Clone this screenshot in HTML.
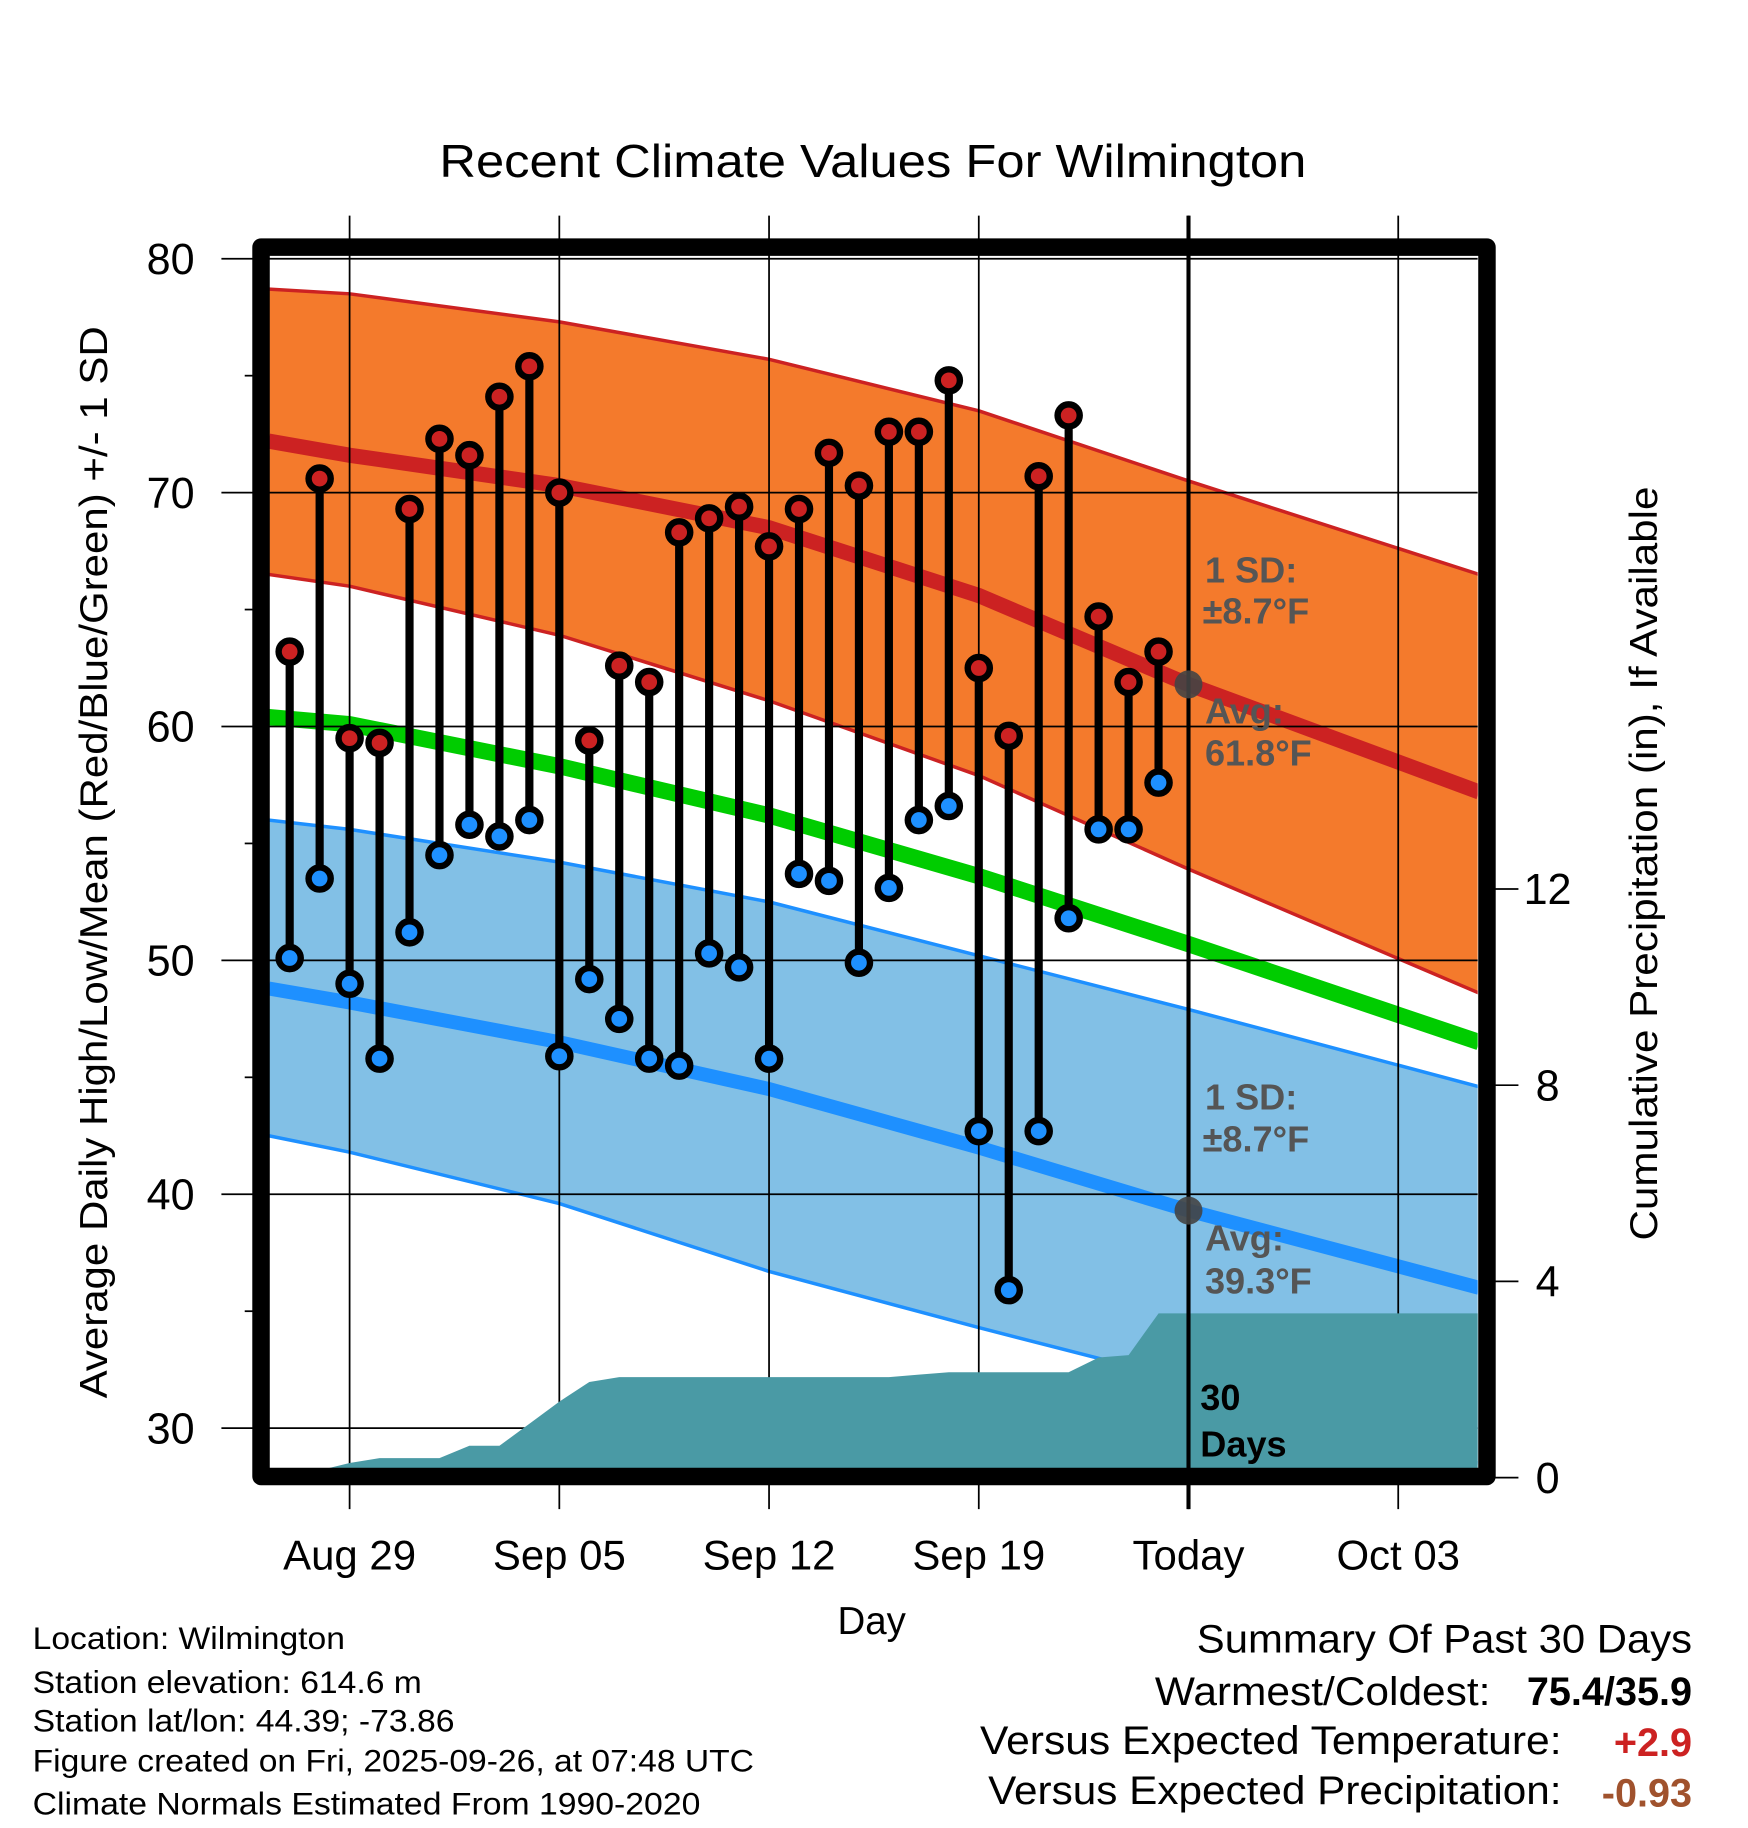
<!DOCTYPE html>
<html><head><meta charset="utf-8"><style>
html,body{margin:0;padding:0;background:#fff}
svg{display:block}
text{font-family:"Liberation Sans",Arial,sans-serif}
</style></head><body>
<svg id="chart" width="1748" height="1828" viewBox="0 0 1500 1568.6" xmlns="http://www.w3.org/2000/svg">
<defs><clipPath id="plotclip"><rect x="231" y="218" width="1037" height="1042"/></clipPath></defs>
<text x="749" y="152" font-size="40" text-anchor="middle" textLength="744" lengthAdjust="spacingAndGlyphs">Recent Climate Values For Wilmington</text>
<g id="grid"></g>
<g id="plot" clip-path="url(#plotclip)"></g>
<g id="marks"></g>
<rect x="224" y="212" width="1052" height="1055" fill="none" stroke="#000" stroke-width="15" stroke-linejoin="round"/>
<g id="axes"></g>
<text transform="translate(92,740) rotate(-90)" font-size="33" text-anchor="middle" textLength="920" lengthAdjust="spacingAndGlyphs">Average Daily High/Low/Mean (Red/Blue/Green) +/- 1 SD</text>
<text transform="translate(1422,741) rotate(-90)" font-size="33" text-anchor="middle" textLength="647" lengthAdjust="spacingAndGlyphs">Cumulative Precipitation (in), If Available</text>
<text x="748" y="1402" font-size="33" text-anchor="middle">Day</text>
<g font-size="27">
<text x="28" y="1415" textLength="268" lengthAdjust="spacingAndGlyphs">Location: Wilmington</text>
<text x="28" y="1453" textLength="334" lengthAdjust="spacingAndGlyphs">Station elevation: 614.6 m</text>
<text x="28" y="1486" textLength="362" lengthAdjust="spacingAndGlyphs">Station lat/lon: 44.39; -73.86</text>
<text x="28" y="1520" textLength="619" lengthAdjust="spacingAndGlyphs">Figure created on Fri, 2025-09-26, at 07:48 UTC</text>
<text x="28" y="1557" textLength="573" lengthAdjust="spacingAndGlyphs">Climate Normals Estimated From 1990-2020</text>
</g>
<g font-size="34">
<text x="1027" y="1418" textLength="425" lengthAdjust="spacingAndGlyphs">Summary Of Past 30 Days</text>
<text x="991" y="1463" textLength="288" lengthAdjust="spacingAndGlyphs">Warmest/Coldest:</text>
<text x="1452" y="1463" text-anchor="end" font-weight="bold">75.4/35.9</text>
<text x="841" y="1505" textLength="499" lengthAdjust="spacingAndGlyphs">Versus Expected Temperature:</text>
<text x="1452" y="1507" text-anchor="end" font-weight="bold" fill="#cc2222">+2.9</text>
<text x="848" y="1548" textLength="492" lengthAdjust="spacingAndGlyphs">Versus Expected Precipitation:</text>
<text x="1452" y="1550" text-anchor="end" font-weight="bold" fill="#a0522d">-0.93</text>
</g>
<script>
// observed data: day offsets from Aug 29
const obsDays=[-2,-1,0,1,2,3,4,5,6,7,8,9,10,11,12,13,14,15,16,17,18,19,20,21,22,23,24,25,26,27];
const highs=[63.2,70.6,59.5,59.3,69.3,72.3,71.6,74.1,75.4,70.0,59.4,62.6,61.9,68.3,68.9,69.4,67.7,69.3,71.7,70.3,72.6,72.6,74.8,62.5,59.6,70.7,73.3,64.7,61.9,63.2];
const lows=[50.1,53.5,49.0,45.8,51.2,54.5,55.8,55.3,56.0,45.9,49.2,47.5,45.8,45.5,50.3,49.7,45.8,53.7,53.4,49.9,53.1,56.0,56.6,42.7,35.9,42.7,51.8,55.6,55.6,57.6];
// normals at sample days
const normDays=[-2.7,0,7,14,21,28,37.7];
const normHighUpper=[78.7,78.5,77.3,75.7,73.5,70.5,66.5];
const normHigh=[72.2,71.6,70.3,68.5,65.6,61.8,57.2];
const normHighLower=[66.5,66.0,63.9,61.1,57.9,53.9,48.6];
const normMean=[60.4,60.1,58.3,56.2,53.6,50.7,46.5];
const normLowUpper=[56.0,55.6,54.2,52.5,50.2,47.9,44.6];
const normLow=[48.8,48.2,46.5,44.5,42.0,39.3,36.0];
const normLowLower=[42.5,41.8,39.6,36.7,34.3,32.0,28.5];
// cumulative precipitation
const precipDays=[-1.4,-1,0,1,2,3,4,5,6,7,8,9,10,11,12,13,14,15,16,17,18,19,20,21,22,23,24,25,26,27,28,37.7];
const precipVals=[0,0.15,0.3,0.4,0.4,0.4,0.65,0.65,1.1,1.55,1.95,2.05,2.05,2.05,2.05,2.05,2.05,2.05,2.05,2.05,2.05,2.1,2.15,2.15,2.15,2.15,2.15,2.45,2.5,3.35,3.35,3.35];
const yTicks=[80,70,60,50,40,30];
const yMinor=[75,65,55,45,35];
const y2Ticks=[0,4,8,12];
const xTickDays=[0,7,14,21,28,35];
const xTickLabels=["Aug 29","Sep 05","Sep 12","Sep 19","Today","Oct 03"];
const todayDay=28, todayHighAvg=61.8, todayLowAvg=39.3;

const NS="http://www.w3.org/2000/svg";
const X=d=>300+d*25.71;
const Y=v=>222+(80-v)*20.07;
const Y2=p=>1268-p*42.1;
function mk(par,tag,at){const e=document.createElementNS(NS,tag);for(const k in at)e.setAttribute(k,at[k]);par.appendChild(e);return e;}
const grid=document.getElementById('grid'),plot=document.getElementById('plot'),marks=document.getElementById('marks'),axes=document.getElementById('axes');

yTicks.forEach(v=>{const l=mk(grid,'line',{x1:190,x2:1268,y1:Y(v),y2:Y(v),stroke:'#000','stroke-width':1.5});


const t=mk(axes,'text',{x:167,y:Y(v)+13,'font-size':37,'text-anchor':'end'});t.textContent=v;

});
yMinor.forEach(v=>{const l=mk(axes,'line',{x1:210,x2:217,y1:Y(v),y2:Y(v),stroke:'#000','stroke-width':1.5});

});
xTickDays.forEach((d,i)=>{const l=mk(grid,'line',{x1:X(d),x2:X(d),y1:185,y2:1295,stroke:'#000','stroke-width':1.5});


const t=mk(axes,'text',{x:X(d),y:1347,'font-size':36,'text-anchor':'middle'});t.textContent=xTickLabels[i];

});
y2Ticks.forEach(p=>{const l=mk(axes,'line',{x1:1283,x2:1303,y1:Y2(p),y2:Y2(p),stroke:'#000','stroke-width':1.5});


const t=mk(axes,'text',{x:1328,y:Y2(p)+13,'font-size':37,'text-anchor':'middle'});t.textContent=p;

});

function pts(days,vals){return days.map((d,i)=>X(d).toFixed(1)+','+Y(vals[i]).toFixed(1));}
function band(up,lo,fill,edge,name){
  const p=pts(normDays,up).concat(pts(normDays,lo).reverse());
  const b=mk(plot,'polygon',{points:p.join(' '),fill:fill});
  
  
  [up,lo].forEach(a=>{const e=mk(plot,'polyline',{points:pts(normDays,a).join(' '),fill:'none',stroke:edge,'stroke-width':3});
  
  });
}
function line(vals,col,w,name){const e=mk(plot,'polyline',{points:pts(normDays,vals).join(' '),fill:'none',stroke:col,'stroke-width':w});

}
band(normHighUpper,normHighLower,'#f47a2c','#cc2222','high-sd-band');
band(normLowUpper,normLowLower,'#82c0e6','#1e90ff','low-sd-band');
line(normHigh,'#cc2222',13,'normal-high-line');
line(normMean,'#00cc00',14,'normal-mean-line');
line(normLow,'#1e90ff',12,'normal-low-line');
plot.parentNode.insertBefore(plot,grid);
const pp=precipDays.map((d,i)=>X(d).toFixed(1)+','+Y2(precipVals[i]).toFixed(1));
pp.push(X(37.7)+','+1270,X(-1.4)+','+1270);
const pr=mk(marks,'polygon',{points:pp.join(' '),fill:'#4a9aa5','clip-path':'url(#plotclip)'});


const tl=mk(marks,'line',{x1:X(todayDay),x2:X(todayDay),y1:185,y2:1295,stroke:'#000','stroke-width':3.5});


obsDays.forEach((d,i)=>{
  const s=mk(marks,'line',{x1:X(d),x2:X(d),y1:Y(highs[i]),y2:Y(lows[i]),stroke:'#000','stroke-width':7});
  
  
  const h=mk(marks,'circle',{cx:X(d),cy:Y(highs[i]),r:9.5,fill:'#cc2222',stroke:'#000','stroke-width':5.5});
  
  
  const l=mk(marks,'circle',{cx:X(d),cy:Y(lows[i]),r:9.5,fill:'#1e90ff',stroke:'#000','stroke-width':5.5});
  
  
});
[todayHighAvg,todayLowAvg].forEach(v=>{const c=mk(marks,'circle',{cx:X(todayDay),cy:Y(v),r:12,fill:'#444','fill-opacity':0.9});

});
function txt(x,y,s,fill,name){const t=mk(marks,'text',{x:x,y:y,'font-size':31,'font-weight':'bold',fill:fill});t.textContent=s;

}
txt(1034,500,'1 SD:','#555','high-sd-label');
txt(1032,535,'\u00b18.7\u00b0F','#555','high-sd-value');
txt(1034,621,'Avg:','#555','high-avg-label');
txt(1034,657,todayHighAvg.toFixed(1)+'\u00b0F','#555','high-avg-value');
txt(1034,952,'1 SD:','#555','low-sd-label');
txt(1032,988,'\u00b18.7\u00b0F','#555','low-sd-value');
txt(1034,1073,'Avg:','#555','low-avg-label');
txt(1034,1110,todayLowAvg.toFixed(1)+'\u00b0F','#555','low-avg-value');
txt(1030,1210,'30','#000','days-count');
txt(1030,1250,'Days','#000','days-label');
</script>
</svg>
</body></html>
